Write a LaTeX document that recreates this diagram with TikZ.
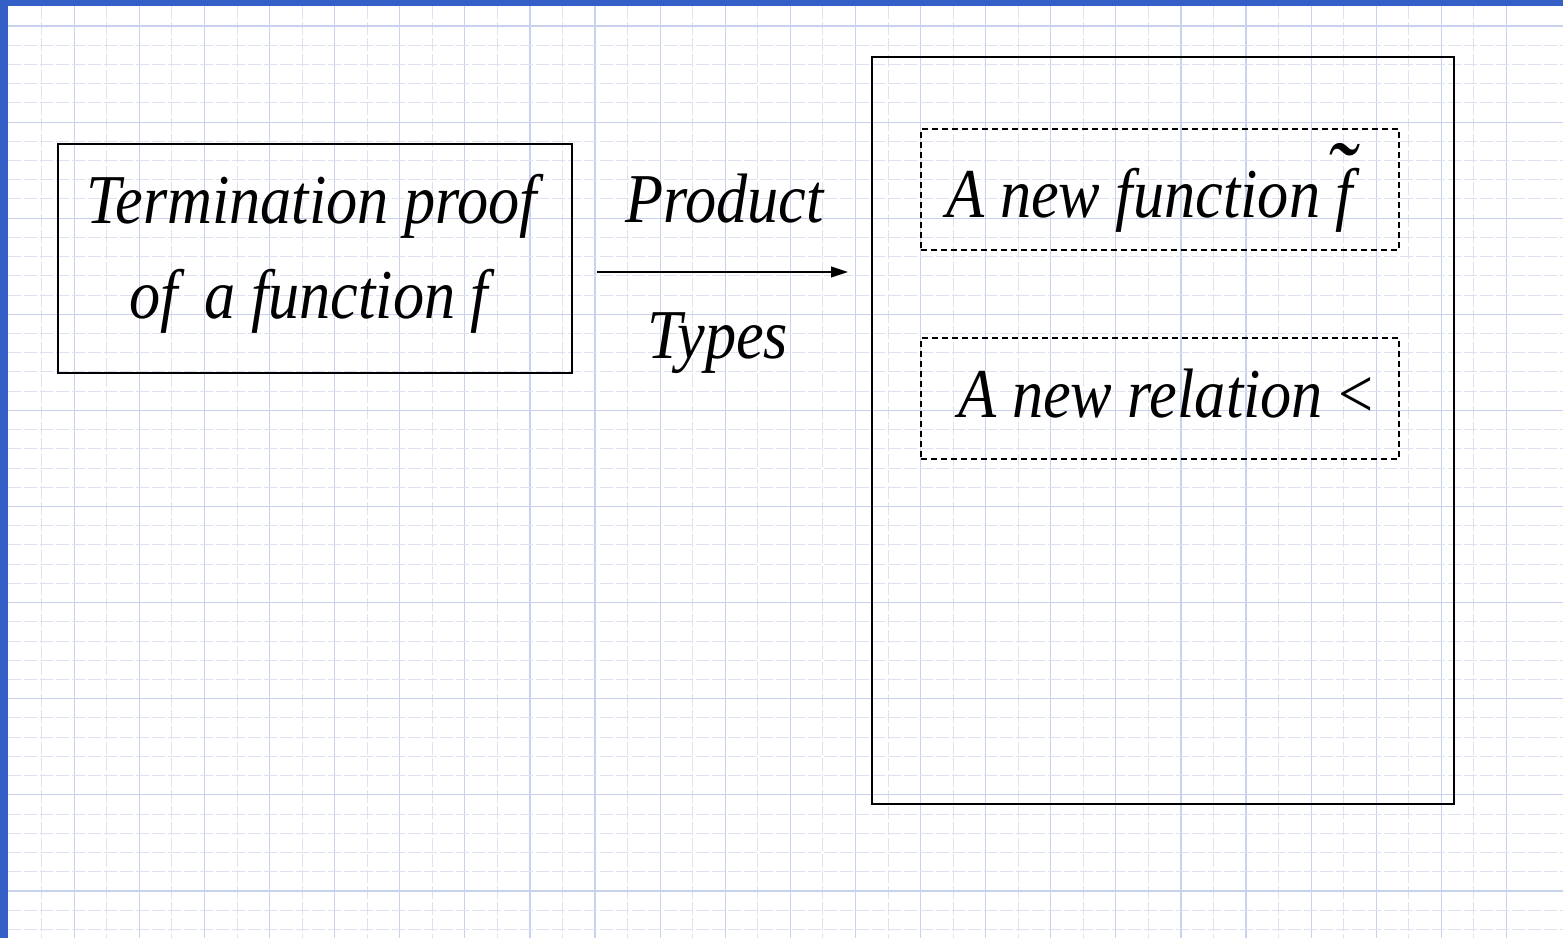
\documentclass[tikz,border=0pt]{standalone}
\usepackage{fontspec}
\usepackage{graphicx}
\setmainfont{Liberation Serif}
\newfontfamily\diagfont[FakeStretch=0.89]{Liberation Serif}
\usetikzlibrary{arrows.meta}

\definecolor{gridmajor}{RGB}{200,210,238}
\definecolor{gridminor}{RGB}{222,226,240}
\definecolor{frameblue}{RGB}{52,95,198}

% f with a wide tilde above it
\newcommand\tildedf{\makebox[0pt][l]{\hspace{-0.16em}\raisebox{0.11em}{\scalebox{1.45}[1.4]{\char"02DC}}}f}

\begin{document}
\begin{tikzpicture}[x=0.5pt,y=-0.5pt,
  txt/.style={font=\diagfont\itshape\fontsize{35}{42}\selectfont, inner sep=0pt, anchor=base west},
  box/.style={draw, line width=0.55pt, inner sep=0pt},
  dbox/.style={draw, line width=0.55pt, dash pattern=on 3pt off 2pt, inner sep=0pt},
  link/.style={line width=0.75pt, -{Triangle[length=8.5pt,width=5.4pt]}},
]
\useasboundingbox (0,0) rectangle (1563,938);

% background grid
\foreach \k in {0,...,45} {
  \pgfmathsetmacro\xx{41.7+32.55*\k}
  \ifodd\k
    \draw[gridmajor, line width=0.6pt] (\xx,6) -- (\xx,938);
  \else
    \draw[gridminor, line width=0.5pt, dash pattern=on 6.5pt off 1.5pt] (\xx,6) -- (\xx,938);
  \fi
}
\foreach \k in {0,...,47} {
  \pgfmathsetmacro\yy{26+19.22*\k}
  \pgfmathtruncatemacro\m{mod(\k,5)}
  \ifnum\m=0
    \draw[gridmajor, line width=0.6pt] (8,\yy) -- (1563,\yy);
  \else
    \draw[gridminor, line width=0.5pt, dash pattern=on 6.5pt off 1.5pt] (8,\yy) -- (1563,\yy);
  \fi
}

% page frame
\fill[frameblue] (0,0) rectangle (1563,6);
\fill[frameblue] (0,0) rectangle (8,938);

% boxes
\node[box, minimum width=257pt, minimum height=114.5pt] (proofbox) at (315,258.5) {};
\node[box, minimum width=291pt, minimum height=373.5pt] (resultbox) at (1163,430.5) {};
\node[dbox, minimum width=239pt, minimum height=60.5pt] (funcbox) at (1160,189.5) {};
\node[dbox, minimum width=239pt, minimum height=60.5pt] (relbox) at (1160,398.5) {};

% texts
\node[txt] (proof1) at (86,223) {Termination proof};
\node[txt] (proof2) at (129,318) {of\hspace{0.38em}a function f};
\node[txt] (prod) at (625,222) {Product};
\node[txt] (types) at (647,358) {Types};
\node[txt] (func) at (946,217) {A new function \tildedf};
\node[txt] (rel) at (958,417) {A new relation \textup{<}};

% arrow
\coordinate (arrowtail) at (597,272);
\coordinate (arrowtip) at (848,272);
\draw[link] (arrowtail) -- (arrowtip);
\end{tikzpicture}
\end{document}
